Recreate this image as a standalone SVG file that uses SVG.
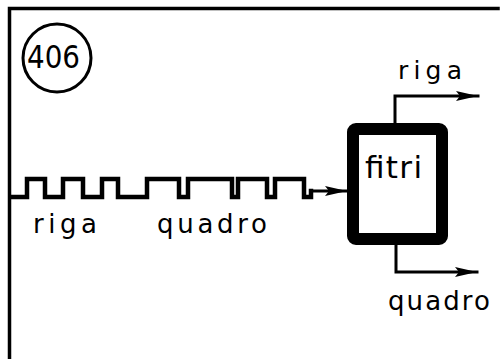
<svg xmlns="http://www.w3.org/2000/svg" width="503" height="359" viewBox="0 0 503 359">
  <style>
    .ln { fill: none; stroke: #000; stroke-linecap: square; stroke-linejoin: miter; }
    .t { font-family: "DejaVu Sans", "Liberation Sans", sans-serif; fill: #000; }
  </style>
  <defs>
    <marker id="ah" viewBox="0 0 22 11" refX="22" refY="5.5" markerWidth="22" markerHeight="11" markerUnits="userSpaceOnUse" orient="auto">
      <path d="M0,0.5 L22,5.5 L0,10.5 L4,5.5 Z" fill="#000"/>
    </marker>
  </defs>
  <rect width="503" height="359" fill="#fff"/>
  <g id="frame">
    <path class="ln" d="M9.5,359 V8.5 H498" stroke-width="3.5"/>
  </g>
  <g id="node-406">
    <circle cx="57" cy="58" r="34" fill="none" stroke="#000" stroke-width="3"/>
    <text class="t" x="27" y="68" font-size="32" textLength="53" lengthAdjust="spacingAndGlyphs">406</text>
  </g>
  <g id="node-signal">
    <path class="ln" stroke-width="4.5" d="M11,197 H27 V179 H45 V197 H63 V179 H83 V197 H102 V179 H118 V197 H147 V179 H179 V197 H188 V179 H232 V197 H238 V179 H267 V197 H275 V179 H304 V197 H311 V191"/>
    <text class="t" x="33" y="233" font-size="26" textLength="64" lengthAdjust="spacing">riga</text>
    <text class="t" x="157" y="233" font-size="26" textLength="110" lengthAdjust="spacing">quadro</text>
  </g>
  <g id="node-fitri">
    <rect x="353" y="129" width="89" height="110" rx="3" fill="#fff" stroke="#000" stroke-width="12"/>
    <text class="t" x="365" y="178" font-size="31" textLength="57" lengthAdjust="spacing">fitri</text>
  </g>
  <g id="node-out-riga">
    <text class="t" x="398" y="79" font-size="25" textLength="64" lengthAdjust="spacing">riga</text>
  </g>
  <g id="node-out-quadro">
    <text class="t" x="388" y="310" font-size="26" textLength="102" lengthAdjust="spacing">quadro</text>
  </g>
  <g id="connectors">
    <path class="ln" stroke-width="3" d="M312,191 H347" marker-end="url(#ah)"/>
    <path class="ln" stroke-width="3" d="M395,123 V96 H478" marker-end="url(#ah)"/>
    <path class="ln" stroke-width="3" d="M396,245 V272 H477" marker-end="url(#ah)"/>
  </g>
</svg>
